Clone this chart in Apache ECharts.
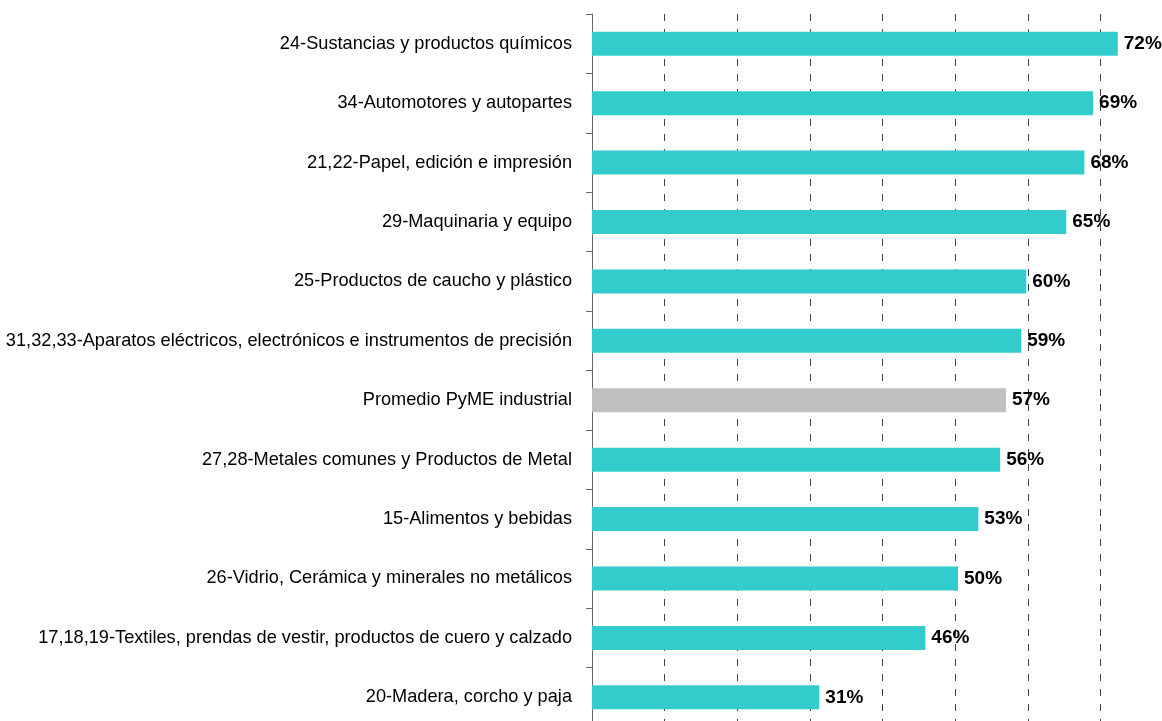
<!DOCTYPE html>
<html lang="es">
<head>
  <meta charset="UTF-8">
  <title>PyME industrial por sector</title>
  <script src="https://cdn.jsdelivr.net/npm/echarts@6/dist/echarts.min.js"></script>
  <style>
    html, body { margin: 0; padding: 0; width: 100%; height: 100%; background: #fff; }
    #chart { width: 1162px; height: 721px; }
  </style>
</head>
<body>
<div id="chart"></div>
<script>
  // sectores, de arriba hacia abajo
  const sectores = [
    '24-Sustancias y productos químicos',
    '34-Automotores y autopartes',
    '21,22-Papel, edición e impresión',
    '29-Maquinaria y equipo',
    '25-Productos de caucho y plástico',
    '31,32,33-Aparatos eléctricos, electrónicos e instrumentos de precisión',
    'Promedio PyME industrial',
    '27,28-Metales comunes y Productos de Metal',
    '15-Alimentos y bebidas',
    '26-Vidrio, Cerámica y minerales no metálicos',
    '17,18,19-Textiles, prendas de vestir, productos de cuero y calzado',
    '20-Madera, corcho y paja'
  ];
  // porcentaje
  const valores = [72.4, 69.0, 67.8, 65.3, 59.8, 59.1, 57.0, 56.2, 53.2, 50.4, 45.9, 31.3];
  const promedio = 'Promedio PyME industrial';

  const font = '"Liberation Sans", Arial, sans-serif';

  const chart = echarts.init(document.getElementById('chart'));
  chart.setOption({
    animation: false,
    grid: {
      left: 592,
      top: 14,
      width: 581,
      height: 713,
      outerBoundsMode: 'none'
    },
    xAxis: {
      type: 'value',
      min: 0,
      max: 80,
      interval: 10,
      axisLine: { show: false },
      axisTick: { show: false },
      axisLabel: { show: false },
      splitLine: {
        show: true,
        showMinLine: false,
        lineStyle: { color: '#444', width: 1, type: [7, 8] }
      }
    },
    yAxis: {
      type: 'category',
      inverse: true,
      data: sectores,
      axisLine: { show: true, lineStyle: { color: '#666', width: 1 } },
      axisTick: { show: true, length: 6, lineStyle: { color: '#666' } },
      axisLabel: {
        margin: 20,
        color: '#000',
        fontSize: 18.2,
        fontFamily: font
      }
    },
    series: [{
      type: 'bar',
      barWidth: 24,
      data: valores.map((v, i) => ({
        value: v,
        itemStyle: { color: sectores[i] === promedio ? '#C0C0C0' : '#33CCCC' }
      })),
      label: {
        show: true,
        position: 'right',
        distance: 6,
        color: '#000',
        fontWeight: 'bold',
        fontSize: 19,
        fontFamily: font,
        formatter: p => Math.round(p.value) + '%'
      }
    }]
  });
</script>
</body>
</html>
